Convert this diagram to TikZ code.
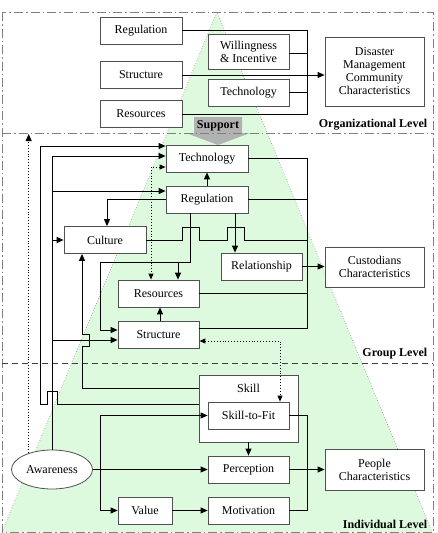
\documentclass[tikz,border=0pt]{standalone}
\usepackage{fontspec}
\setmainfont{Liberation Serif}
\usetikzlibrary{arrows.meta,shapes.geometric}
\definecolor{pale}{RGB}{222,250,222}
\definecolor{boxline}{RGB}{80,80,80}

\begin{document}
\begin{tikzpicture}[x=1pt,y=-1pt,line width=0.9pt,
    every node/.style={font=\fontsize{12}{13}\selectfont},
    box/.style={draw=boxline,fill=white,line width=0.8pt,minimum width=81pt,minimum height=27pt,inner sep=1pt,align=center},
    bigbox/.style={box,minimum width=99pt},
    lvl/.style={anchor=east,font=\fontsize{12}{13}\selectfont\bfseries},
    arr/.style={-{Triangle[length=7pt,width=6pt]}},
    dotarr/.style={dotted,{Triangle[length=6pt,width=5pt]}-{Triangle[length=6pt,width=5pt]}},
    dashdot/.style={gray,line width=0.8pt,dash pattern=on 9pt off 3pt on 1.5pt off 3pt}]
\useasboundingbox (0,0) rectangle (437,533);

\fill[pale] (217,12) -- (2,532) -- (432,532) -- cycle;
\draw[gray,dotted,line width=0.6pt] (2,532) -- (217,12) -- (432,532);
\fill[gray!60] (194,117) -- (242,117) -- (242,133) -- (250,133) -- (218,145) -- (186,133) -- (194,133) -- cycle;
\draw[dashdot] (2,12) rectangle (433,532);
\draw[dashdot] (2,133) -- (433,133);
\draw[black!75,line width=0.8pt,dash pattern=on 6pt off 4pt] (2,363) -- (433,363);

\node[font=\fontsize{12}{13}\selectfont\bfseries] (support) at (218,126) {Support};
\node[lvl] (orglvl) at (431,125) {Organizational Level};
\node[lvl] (grplvl) at (431,354) {Group Level};
\node[lvl] (indlvl) at (431,524) {Individual Level};

\coordinate (obus) at (307,0);
\coordinate (gbus) at (307,0);
\coordinate (ibus) at (307,0);

% organizational level
\node[box,minimum width=82pt] (oreg) at (141,30.5) {Regulation};
\node[box,minimum width=82pt] (ostr) at (141,75) {Structure};
\node[box,minimum width=82pt] (ores) at (141,114) {Resources};
\node[box,minimum height=35pt] (owill) at (248.5,51.5) {Willingness\\\& Incentive};
\node[box] (otech) at (248.5,92.5) {Technology};
\node[bigbox,minimum height=69pt] (dmcc) at (374.5,71.5) {Disaster\\Management\\Community\\Characteristics};

% group level
\node[box,minimum width=82pt] (gtech) at (207,158.5) {Technology};
\node[box,minimum width=82pt] (greg) at (207,199.5) {Regulation};
\node[box,minimum width=82pt] (cult) at (105,240) {Culture};
\node[box] (rel) at (261.5,266.5) {Relationship};
\node[box] (gres) at (158.5,293.5) {Resources};
\node[box] (gstr) at (158.5,334.5) {Structure};
\node[bigbox,minimum height=40pt] (cust) at (374.5,267) {Custodians\\Characteristics};

% individual level
\node[box,minimum width=99pt,minimum height=67pt] (skill) at (248.5,408.5) {};
\node (skilltxt) at (248.5,388) {Skill};
\node[box] (fit) at (248.5,415.5) {Skill-to-Fit};
\node[box] (perc) at (248.5,469.5) {Perception};
\node[box] (motiv) at (248.5,510.5) {Motivation};
\node[box,minimum width=54pt] (value) at (145,510.5) {Value};
\node[bigbox,minimum height=41pt] (people) at (374.5,469.5) {People\\Characteristics};
\node[draw=boxline,fill=white,line width=0.8pt,ellipse,minimum width=81pt,minimum height=39pt,inner sep=0pt] (aware) at (52,469.5) {Awareness};

% organizational connectors
\draw (oreg.east) -- (oreg.east -| obus) -- (ores.east -| obus) -- (ores.east);
\draw (owill.east |- 0,53) -- (obus |- 0,53);
\draw (otech.east) -- (otech.east -| obus);
\draw[arr] (ostr.east) -- (ostr.east -| dmcc.west);

% group connectors
\draw[arr] (greg.north) -- (gtech.south);
\draw (gtech.east) -- (gtech.east -| gbus) -- (gbus |- 0,328) -- (gstr.east |- 0,328);
\draw (greg.east) -- (greg.east -| gbus);
\draw (gres.east) -- (gres.east -| gbus);
\draw (cult.east) -- (182,240) -- (182,227) -- (199,227) -- (199,240) -- (227,240) -- (227,227) -- (244,227) -- (244,240) -- (cult.east -| gbus);
\draw[arr] (rel.east) -- (rel.east -| cust.west);
\draw[arr] (greg.west) -| (107,0 |- cult.north);
\draw[arr] (greg.south -| 190,0) -- (190,262) -- (100,262) -- (100,330) -- (gstr.west |- 0,330);
\draw[arr] (178,262) -- (gres.north -| 178,0);
\draw[arr] (greg.south -| 235,0) -- (rel.north -| 235,0);
\draw[arr] (gstr.north -| 160,0) -- (gres.south -| 160,0);
\draw[dotarr] (gtech.west |- 0,167) -- (151,167) -- (gres.north -| 151,0);
\draw[dotarr] (gstr.east |- 0,341) -- (280,341) -- (fit.north -| 280,0);

% awareness and skill upwards
\draw[arr] (aware.north) -- (aware.north |- 0,156) -- (gtech.west |- 0,156);
\draw[arr] (aware.north |- 0,191) -- (greg.west |- 0,191);
\draw[arr] (aware.north |- 0,240) -- (cult.west);
\draw[arr] (aware.north |- 0,340) -- (gstr.west |- 0,340);
\draw[arr] (skill.west |- 0,404) -- (57,404) -- (57,391) -- (47,391) -- (47,404) -- (40,404) -- (40,146) -- (gtech.west |- 0,146);
\draw[arr] (skill.west |- 0,388) -- (82,388) -- (82,346) -- (89,346) -- (89,334) -- (82,334) -- (cult.south -| 82,0);
\draw[dotted,arr] (aware.145) -- (aware.145 |- 0,134);

% individual connectors
\draw[arr] (aware.east) -- (perc.west);
\draw[arr] (aware.east -| 100,0) |- (fit.west);
\draw[arr] (aware.east -| 100,0) |- (value.west);
\draw[arr] (value.east) -- (motiv.west);
\draw[arr] (skill.south) -- (perc.north);
\draw (fit.east) -- (fit.east -| ibus) -- (motiv.east -| ibus) -- (motiv.east);
\draw[arr] (perc.east) -- (perc.east -| people.west);
\end{tikzpicture}
\end{document}
